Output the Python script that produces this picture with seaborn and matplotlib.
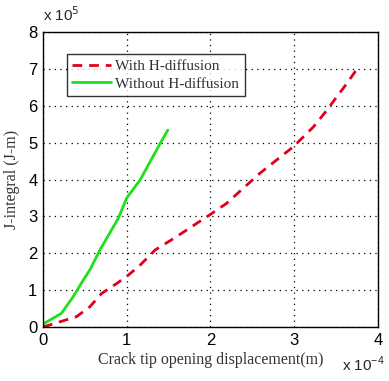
import matplotlib
matplotlib.use("Agg")
import matplotlib.pyplot as plt
import seaborn as sns
import pandas as pd
import numpy as np

# Data (x in units of 1e-4 m, y in units of 1e5 J-m)
with_x = [0, 0.40, 0.56, 0.70, 0.88, 1.02, 1.16, 1.34, 1.56, 1.99, 2.19, 2.59, 2.99, 3.07, 3.23, 3.39, 3.51, 3.63, 3.75]
with_y = [0, 0.28, 0.55, 0.91, 1.18, 1.41, 1.68, 2.09, 2.40, 3.04, 3.35, 4.17, 4.89, 5.07, 5.43, 5.88, 6.25, 6.61, 7.00]
without_x = [0, 0.22, 0.36, 0.48, 0.56, 0.68, 0.90, 1.00, 1.16, 1.40, 1.49]
without_y = [0.08, 0.37, 0.82, 1.27, 1.55, 2.09, 2.95, 3.50, 3.99, 4.98, 5.34]
series_names = ["With H-diffusion", "Without H-diffusion"]
xticks = [0, 1, 2, 3, 4]
yticks = [0, 1, 2, 3, 4, 5, 6, 7, 8]

df = pd.concat([
    pd.DataFrame({"x": np.array(with_x) * 1e-4, "y": np.array(with_y) * 1e5, "s": series_names[0]}),
    pd.DataFrame({"x": np.array(without_x) * 1e-4, "y": np.array(without_y) * 1e5, "s": series_names[1]}),
])

sns.set_style("white")
fig = plt.figure(figsize=(3.89, 3.81), dpi=100)
ax = fig.add_axes([0.1105, 0.1417, 0.8612, 0.7743])

palette = {series_names[0]: "#e0001c", series_names[1]: "#1ee01e"}
sns.lineplot(data=df, x="x", y="y", hue="s", style="s", palette=palette,
             dashes={series_names[0]: (3.5, 2.5), series_names[1]: ""},
             sort=False, linewidth=2, ax=ax, legend=True)

ax.set_xlim(0, 4e-4)
ax.set_ylim(0, 8e5)
ax.set_xticks([t * 1e-4 for t in xticks])
ax.set_xticklabels([str(t) for t in xticks], fontsize=12, family="Liberation Sans")
ax.set_yticks([t * 1e5 for t in yticks])
ax.set_yticklabels([str(t) for t in yticks], fontsize=12, family="Liberation Sans")
ax.tick_params(direction="in", length=3, width=0.8, pad=4, colors="black")
ax.grid(True, color="black", linestyle=(0, (1, 3.5)), linewidth=0.9)
for sp in ax.spines.values():
    sp.set_color("black")
    sp.set_linewidth(1.0)

ax.set_xlabel("Crack tip opening displacement(m)", fontsize=11.5, family="Liberation Serif", color="#333333", labelpad=3)
ax.set_ylabel("J-integral (J-m)", fontsize=11.5, family="Liberation Serif", color="#333333", labelpad=6)

fig.text(43 / 389, 1 - 24 / 381, r"x 10$^5$", fontsize=11, family="Liberation Sans", ha="left", va="bottom")
fig.text(342 / 389, 1 - 374 / 381, r"x 10$^{\mathregular{-4}}$", fontsize=11, family="Liberation Sans", ha="left", va="bottom")

leg = ax.legend(loc="upper left", bbox_to_anchor=(0.072, 0.925), frameon=True, fancybox=False,
                prop={"family": "Liberation Serif", "size": 11}, handlelength=2.5,
                borderpad=0.35, labelspacing=0.25, handletextpad=0.3, borderaxespad=0)
leg.get_frame().set_edgecolor("black")
leg.get_frame().set_linewidth(1.0)
for t in leg.get_texts():
    t.set_color("#333333")

fig.savefig("out.png", dpi=100)
